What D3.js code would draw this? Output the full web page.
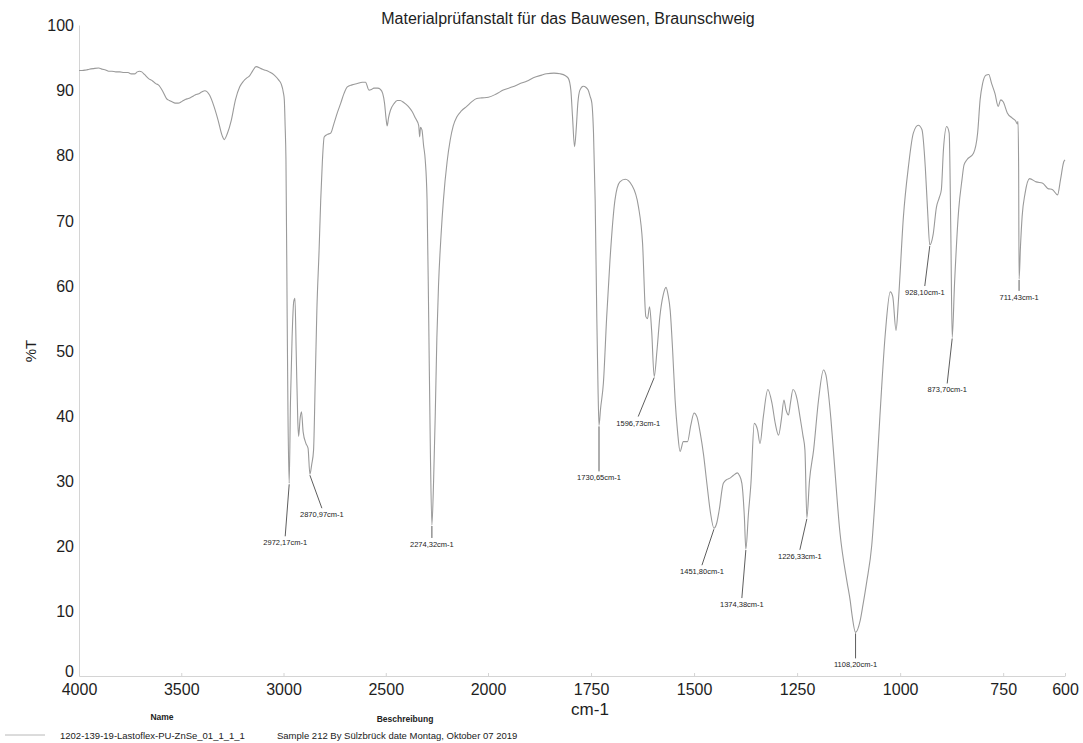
<!DOCTYPE html>
<html>
<head>
<meta charset="utf-8">
<script src="https://cdn.jsdelivr.net/npm/d3@7"></script>
<style>
  body { margin: 0; background: #fff; }
  svg { display: block; font-family: "Liberation Sans", Arial, sans-serif; }
  .axis path, .axis line { stroke: #d4d4d4; }
  .axis text { fill: #1e1e1e; font-size: 16px; }
</style>
</head>
<body>
<div id="chart"><svg></svg></div>
<script>
// wavenumber (cm-1) and %T
const wavenumbers = [
  4000, 3985, 3965, 3950, 3930, 3904, 3885, 3870, 3855, 3839, 3820, 3800, 3780, 3760, 3745, 3728, 3715, 3705, 3693, 3680,
  3661, 3640, 3625, 3612, 3590, 3572, 3558, 3545, 3530, 3515, 3500, 3490, 3478, 3466, 3452, 3440, 3430, 3418, 3400, 3385,
  3361, 3340, 3320, 3300, 3290, 3275, 3255, 3235, 3214, 3195, 3182, 3166, 3150, 3134, 3110, 3093, 3070, 3045, 3025, 3012,
  3000, 2996, 2992, 2988, 2982, 2978, 2972.17, 2966, 2958, 2950, 2944, 2938, 2930, 2926, 2919, 2912, 2904, 2890, 2880, 2870.97,
  2862, 2853, 2845, 2837, 2826, 2818, 2810, 2801, 2785, 2769, 2753, 2737, 2720, 2704, 2688, 2665, 2639, 2615, 2599, 2582,
  2570, 2558, 2540, 2526, 2515, 2506, 2498, 2493, 2486, 2477, 2460, 2444, 2430, 2412, 2390, 2371, 2355, 2339, 2334, 2330,
  2323, 2315, 2307, 2298, 2290, 2282, 2274.32, 2266, 2258, 2250, 2242, 2229, 2218, 2200, 2185, 2170, 2152, 2130, 2104, 2080,
  2055, 2030, 1999, 1980, 1963, 1940, 1922, 1905, 1890, 1870, 1858, 1840, 1825, 1812, 1805, 1799, 1795, 1790, 1786, 1782,
  1777, 1769, 1762, 1757, 1752, 1748, 1744, 1740, 1736, 1733, 1730.65, 1727, 1720, 1712, 1704, 1692, 1680, 1667, 1651, 1635,
  1625, 1617, 1613, 1608, 1603, 1596.73, 1590, 1583, 1575, 1568, 1563, 1558, 1552, 1546, 1540, 1534, 1526, 1516, 1508, 1500,
  1493, 1485, 1477, 1469, 1460, 1451.8, 1445, 1439, 1429, 1420, 1413, 1405, 1395, 1390, 1384, 1378, 1374.38, 1368, 1362, 1354,
  1346, 1340, 1332, 1321, 1311, 1303, 1295, 1288, 1282, 1277, 1271, 1266, 1260, 1250, 1243, 1236, 1231, 1226.33, 1220, 1210,
  1198, 1186, 1180, 1174, 1168, 1162, 1146, 1129, 1121, 1117, 1108.2, 1097, 1090, 1081, 1069, 1061, 1049, 1036, 1024, 1018,
  1010, 1004, 992, 980, 968, 956, 947, 939, 933, 928.1, 920, 912, 905, 900, 895, 887, 881, 877, 873.7, 868,
  858, 850, 845, 838, 822, 812, 806, 800, 792, 785, 778, 770, 762, 756, 750, 740, 728, 720, 716, 714,
  712.5, 711.43, 708, 704, 697, 686, 670, 654, 642, 630, 618, 611, 603, 600
];
const transmittance = [
  93.0, 93.0, 93.1, 93.2, 93.3, 93.4, 93.2, 93.1, 92.9, 92.9, 92.8, 92.8, 92.7, 92.7, 92.5, 92.5, 92.8, 92.9, 92.8, 92.4,
  91.8, 91.4, 91.0, 90.8, 89.8, 88.7, 88.4, 88.2, 88.0, 88.0, 88.2, 88.4, 88.6, 88.7, 88.9, 89.1, 89.3, 89.4, 89.7, 89.9,
  89.2, 87.5, 85.4, 83.0, 82.4, 83.3, 85.4, 88.5, 90.5, 91.4, 91.8, 92.2, 93.0, 93.6, 93.3, 93.1, 92.8, 92.3, 91.6, 91.0,
  89.5, 88.5, 84.5, 79.3, 55.0, 40.0, 29.6, 42.0, 52.0, 57.5, 58.0, 50.0, 39.0, 36.8, 39.5, 40.6, 37.5, 35.7, 35.0, 31.0,
  32.5, 34.7, 45.0, 56.0, 65.4, 73.1, 79.0, 82.8, 83.2, 83.4, 84.9, 86.5, 88.0, 89.5, 90.5, 90.8, 91.0, 91.2, 91.2, 90.0,
  90.1, 90.3, 90.3, 90.1, 89.5, 88.0, 85.5, 84.5, 85.8, 86.9, 87.9, 88.4, 88.4, 88.1, 87.5, 86.7, 85.7, 84.6, 82.8, 84.3,
  83.9, 81.5, 79.3, 73.1, 55.0, 35.0, 23.2, 30.0, 40.0, 52.0, 60.0, 68.0, 73.1, 79.0, 82.3, 84.5, 85.9, 86.8, 87.5, 88.2,
  88.7, 88.8, 88.9, 89.4, 90.0, 90.5, 91.0, 91.4, 91.9, 92.3, 92.5, 92.6, 92.5, 92.2, 91.8, 90.0, 86.0, 81.3, 84.0, 88.0,
  90.0, 90.6, 90.4, 90.0, 89.0, 88.0, 83.4, 73.1, 55.0, 44.0, 38.5, 41.0, 45.0, 55.2, 63.9, 73.1, 75.9, 76.3, 75.4, 72.1,
  66.5, 55.2, 54.9, 56.7, 53.1, 46.0, 50.0, 55.2, 58.5, 59.7, 58.5, 56.2, 50.0, 42.4, 37.5, 34.5, 36.0, 36.0, 38.5, 40.4,
  39.8, 37.3, 34.0, 29.6, 25.0, 22.7, 23.5, 25.5, 29.6, 30.2, 30.4, 30.8, 31.2, 30.8, 29.6, 24.5, 19.5, 25.0, 29.6, 38.8,
  37.8, 35.7, 39.8, 44.0, 41.9, 38.8, 37.0, 39.5, 42.4, 40.9, 40.1, 42.0, 44.0, 42.5, 39.8, 37.0, 34.7, 24.3, 30.0, 34.7,
  42.4, 47.0, 46.2, 43.4, 39.5, 34.7, 22.0, 14.5, 11.5, 9.5, 6.7, 8.5, 11.0, 14.5, 20.0, 27.0, 40.0, 52.6, 59.0, 58.3,
  53.1, 57.8, 70.6, 78.2, 83.4, 84.6, 83.9, 78.2, 71.0, 66.2, 67.8, 72.0, 73.5, 74.7, 80.8, 84.4, 83.4, 68.0, 52.0, 60.3,
  71.6, 76.2, 78.5, 79.3, 80.3, 83.4, 88.5, 91.0, 92.3, 92.4, 91.0, 89.5, 87.5, 88.5, 88.2, 86.5, 85.7, 85.3, 84.8, 85.2,
  78.0, 61.0, 66.0, 70.6, 74.1, 76.4, 75.9, 75.7, 74.9, 74.7, 73.9, 76.2, 79.0, 79.3
];

// labelled peaks
const peakWavenumbers = [2972.17, 2870.97, 2274.32, 1730.65, 1596.73, 1451.8, 1374.38, 1226.33, 1108.2, 928.1, 873.7, 711.43];
const peakTransmittance = [29.6, 31.0, 23.2, 38.5, 46.0, 22.7, 19.5, 24.3, 6.7, 66.2, 52.0, 61.0];
const peakLabels = ["2972,17cm-1", "2870,97cm-1", "2274,32cm-1", "1730,65cm-1", "1596,73cm-1", "1451,80cm-1",
  "1374,38cm-1", "1226,33cm-1", "1108,20cm-1", "928,10cm-1", "873,70cm-1", "711,43cm-1"];

const xTickValues = [4000, 3500, 3000, 2500, 2000, 1750, 1500, 1250, 1000, 750, 600];
const yTickValues = [0, 10, 20, 30, 40, 50, 60, 70, 80, 90, 100];

const chartTitle = "Materialprüfanstalt für das Bauwesen, Braunschweig";
const legendName = "1202-139-19-Lastoflex-PU-ZnSe_01_1_1_1";
const legendDescription = "Sample 212 By Sülzbrück date Montag, Oktober 07 2019";

class SpectrumChart {
  constructor(_config) {
    this.config = {
      parentElement: _config.parentElement,
      containerWidth: 1083,
      containerHeight: 743,
      margin: {top: 25, right: 18, bottom: 67, left: 79},
      // leader line end, relative to the peak point (px)
      labelOffsets: [[-4, 53], [12, 34], [0, 13], [0, 46], [-16, 40], [-12, 37],
                     [-4, 49], [-7, 32], [0, 26], [-5, 41], [-5, 46], [0, 12]]
    };
    this.initVis();
  }

  initVis() {
    let vis = this;
    vis.width = vis.config.containerWidth - vis.config.margin.left - vis.config.margin.right;
    vis.height = vis.config.containerHeight - vis.config.margin.top - vis.config.margin.bottom;

    // the instrument doubles the x scale below 2000 cm-1
    vis.xScale = d3.scaleLinear()
        .domain([4000, 2000, 600])
        .range([0, 409, vis.width]);

    vis.yScale = d3.scaleLinear()
        .domain([0, 100])
        .range([vis.height, 0]);

    vis.xAxis = d3.axisBottom(vis.xScale)
        .tickValues(xTickValues)
        .tickFormat(d3.format('d'))
        .tickSizeInner(-3)
        .tickSizeOuter(0)
        .tickPadding(6);

    vis.yAxis = d3.axisLeft(vis.yScale)
        .tickValues(yTickValues)
        .tickSize(0)
        .tickPadding(5);

    vis.svg = d3.select(vis.config.parentElement + ' svg')
        .attr('width', vis.config.containerWidth)
        .attr('height', vis.config.containerHeight);

    vis.chart = vis.svg.append('g')
        .attr('transform', `translate(${vis.config.margin.left},${vis.config.margin.top})`);

    vis.xAxisG = vis.chart.append('g')
        .attr('class', 'axis x-axis')
        .attr('transform', `translate(0,${vis.height})`);

    vis.yAxisG = vis.chart.append('g')
        .attr('class', 'axis y-axis');

    vis.svg.append('text')
        .attr('x', 568)
        .attr('y', 24)
        .attr('text-anchor', 'middle')
        .attr('font-size', 16)
        .attr('fill', '#1e1e1e')
        .text(chartTitle);

    vis.svg.append('text')
        .attr('transform', 'translate(36,351) rotate(-90)')
        .attr('text-anchor', 'middle')
        .attr('font-size', 15)
        .attr('fill', '#1e1e1e')
        .text('%T');

    vis.svg.append('text')
        .attr('x', 590)
        .attr('y', 715)
        .attr('text-anchor', 'middle')
        .attr('font-size', 17)
        .attr('fill', '#1e1e1e')
        .text('cm-1');

    vis.updateVis();
  }

  updateVis() {
    let vis = this;
    vis.data = wavenumbers.map((w, i) => ({wn: w, t: transmittance[i]}));
    vis.peaks = peakWavenumbers.map((w, i) => ({wn: w, t: peakTransmittance[i], label: peakLabels[i], off: vis.config.labelOffsets[i]}));
    vis.line = d3.line()
        .x(d => vis.xScale(d.wn))
        .y(d => vis.yScale(d.t))
        .curve(d3.curveMonotoneX);
    vis.renderVis();
  }

  renderVis() {
    let vis = this;

    vis.xAxisG.call(vis.xAxis);
    vis.xAxisG.selectAll('text').attr('dy', '0.8em');
    vis.yAxisG.call(vis.yAxis);
    // the "0" sits just above the 4000 label, as in the print
    vis.yAxisG.selectAll('text').attr('dy', d => d === 0 ? '0.05em' : '0.36em');

    vis.chart.append('path')
        .datum(vis.data)
        .attr('fill', 'none')
        .attr('stroke', '#9a9a9a')
        .attr('stroke-width', 1.1)
        .attr('d', vis.line);

    let peakG = vis.chart.selectAll('.peak')
        .data(vis.peaks)
      .join('g')
        .attr('class', 'peak')
        .attr('transform', d => `translate(${vis.xScale(d.wn)},${vis.yScale(d.t)})`);

    peakG.append('line')
        .attr('x1', 0).attr('y1', 1)
        .attr('x2', d => d.off[0]).attr('y2', d => d.off[1])
        .attr('stroke', '#333')
        .attr('stroke-width', 0.8);

    peakG.append('text')
        .attr('x', d => d.off[0])
        .attr('y', d => d.off[1] + 9)
        .attr('text-anchor', 'middle')
        .attr('font-size', 7.5)
        .attr('fill', '#222')
        .text(d => d.label);

    // legend
    let legend = vis.svg.append('g').attr('font-size', 9.5).attr('fill', '#222');
    legend.append('line')
        .attr('x1', 5).attr('x2', 45).attr('y1', 735).attr('y2', 735)
        .attr('stroke', '#b8b8b8').attr('stroke-width', 1);
    legend.append('text').attr('x', 162).attr('y', 720).attr('text-anchor', 'middle')
        .attr('font-weight', 'bold').attr('font-size', 8.5).text('Name');
    legend.append('text').attr('x', 405).attr('y', 722).attr('text-anchor', 'middle')
        .attr('font-weight', 'bold').attr('font-size', 8.5).text('Beschreibung');
    legend.append('text').attr('x', 60).attr('y', 739).text(legendName);
    legend.append('text').attr('x', 277).attr('y', 739).text(legendDescription);
  }
}

new SpectrumChart({parentElement: '#chart'});
</script>
</body>
</html>
